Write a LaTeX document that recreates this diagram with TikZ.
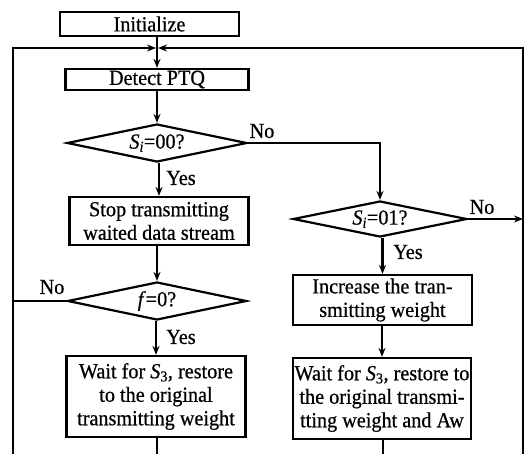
\documentclass[tikz,border=0pt]{standalone}
\usepackage{fontspec}
\setmainfont{Liberation Serif}[FakeStretch=0.94, FakeBold=0.6]
\usetikzlibrary{arrows.meta,positioning,shapes.geometric}

\begin{document}
\begin{tikzpicture}[x=1pt, y=-1pt,
    caja/.style={draw, line width=2.2pt, align=center, inner sep=0pt,
      font=\fontsize{21.5}{23.5}\selectfont},
    rombo/.style={draw, diamond, line width=2.2pt, inner sep=0pt,
      aspect=4.7, font=\fontsize{21.5}{23.5}\selectfont},
    etq/.style={font=\fontsize{21.5}{23.5}\selectfont, inner sep=0pt},
    fl/.style={-{Stealth[length=9pt, width=7pt]}, line width=2.2pt},
    ln/.style={line width=2.2pt}
  ]
    \useasboundingbox (0,0) rectangle (525,453);

    \node[caja, minimum width=179pt, minimum height=24pt] (init)
      at (149.5,24) {Initialize};
    \node[caja, minimum width=183pt, minimum height=21pt] (detect)
      at (157,79.5) {Detect PTQ};
    \node[rombo, minimum width=180pt, minimum height=38pt] (s00)
      at (157,143) {\textit{S}\textsubscript{\textit{i}}=00?};
    \node[caja, minimum width=179pt, minimum height=48pt] (stop)
      at (159,221) {Stop transmitting\\waited data stream};
    \node[rombo, minimum width=179pt, minimum height=38pt] (f0)
      at (157,301) {\textit{f}=0?};
    \node[caja, minimum width=179pt, minimum height=81pt] (wait1)
      at (156,396.5) {Wait for \textit{S}\textsubscript{3}, restore\\to the original\\transmitting weight};

    \node[rombo, minimum width=174pt, minimum height=36pt] (s01)
      at (380,219) {\textit{S}\textsubscript{\textit{i}}=01?};
    \node[caja, minimum width=179pt, minimum height=50pt] (incr)
      at (382.5,300) {Increase the tran-\\smitting weight};
    \node[caja, minimum width=178pt, minimum height=81pt] (wait2)
      at (382,398.5) {Wait for \textit{S}\textsubscript{3}, restore to\\the original transmi-\\tting weight and Aw};

    % puntos del lazo de retorno
    \coordinate (join) at (157,48);
    \coordinate (lt) at (13,48);
    \coordinate (lb) at (13,455);
    \coordinate (rt) at (523,48);
    \coordinate (rb) at (523,455);
    \coordinate (e1) at (157,455);
    \coordinate (e2) at (383,455);

    \draw[ln] (init.south -| join) -- (join);
    \draw[fl] (join) -- (detect.south |- detect.north);
    \draw[fl] (lb) -- (lt) -- ([xshift=-1pt]join);
    \draw[fl] (rb) -- (rt) -- ([xshift=1pt]join);

    \foreach \a/\b in {detect/s00, s00/stop, stop/f0, f0/wait1,
      s01/incr, incr/wait2} {
      \draw[fl] (\a.south -| \b) -- (\b.north);
    }
    \draw[fl] (s00.east) -- (s00.east -| s01) -- (s01.north);
    \draw[fl] (s01.east) -- (s01.east -| rt);
    \draw[ln] (f0.west) -- (f0.west -| lt);
    \draw[ln] (wait1.south -| e1) -- (e1);
    \draw[ln] (wait2.south -| e2) -- (e2);

    \node[etq] (no1) at (262,131) {No};
    \node[etq] (yes1) at (181,178) {Yes};
    \node[etq] (no2) at (482,207) {No};
    \node[etq] (yes2) at (408,252) {Yes};
    \node[etq] (no3) at (52,287) {No};
    \node[etq] (yes3) at (181,337) {Yes};
  \end{tikzpicture}
\end{document}
